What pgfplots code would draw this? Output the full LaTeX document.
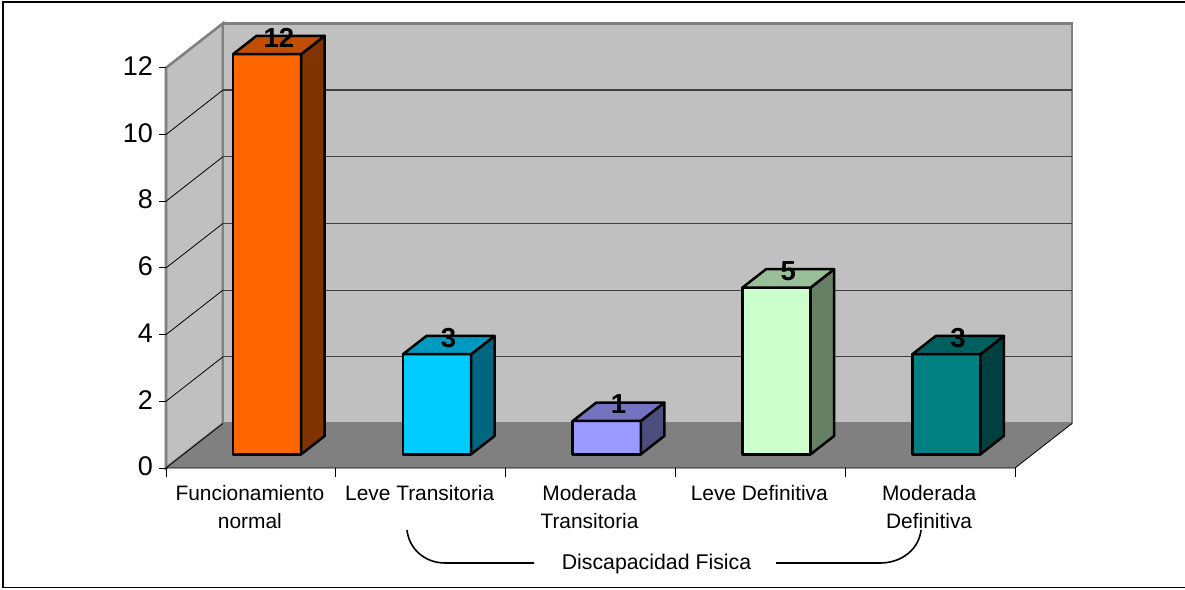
\documentclass[border=0pt]{standalone}
\usepackage{pgfplots}
\usepackage{fontspec}
\setmainfont{Liberation Sans}
\pgfplotsset{compat=1.18}

\definecolor{wallgray}{HTML}{C0C0C0}
\definecolor{floorgray}{HTML}{808080}
\definecolor{orangeF}{HTML}{FF6600}\definecolor{orangeS}{HTML}{7F3300}\definecolor{orangeT}{HTML}{C04D00}
\definecolor{blueF}{HTML}{00CCFF}\definecolor{blueS}{HTML}{006680}\definecolor{blueT}{HTML}{0099BF}
\definecolor{lilacF}{HTML}{9999FF}\definecolor{lilacS}{HTML}{4D4D80}\definecolor{lilacT}{HTML}{7373BF}
\definecolor{mintF}{HTML}{CCFFCC}\definecolor{mintS}{HTML}{668066}\definecolor{mintT}{HTML}{99BF99}
\definecolor{tealF}{HTML}{008080}\definecolor{tealS}{HTML}{004040}\definecolor{tealT}{HTML}{006060}

% One 3D column: position, value, colour prefix
\newcommand{\column}[3]{%
  \addplot3[draw=black,line width=2.5pt,line join=round,fill=#3F,mark=none] coordinates
    {(#1+0.292,0.308,0) (#1+0.693,0.308,0) (#1+0.693,0.308,#2) (#1+0.292,0.308,#2)} --cycle;
  \addplot3[draw=black,line width=2.5pt,line join=round,fill=#3S,mark=none] coordinates
    {(#1+0.693,0.308,0) (#1+0.693,0.72,0) (#1+0.693,0.72,#2) (#1+0.693,0.308,#2)} --cycle;
  \addplot3[draw=black,line width=2.5pt,line join=round,fill=#3T,mark=none] coordinates
    {(#1+0.292,0.308,#2) (#1+0.693,0.308,#2) (#1+0.693,0.72,#2) (#1+0.292,0.72,#2)} --cycle;
  \node[font=\fontsize{27.5}{29}\selectfont\bfseries,inner sep=0pt,yshift=7.5pt]
    at (axis cs:#1+0.492,0.514,#2) {#2};
}
% Horizontal guide across the left and back walls
\newcommand{\guide}[1]{%
  \addplot3[draw=black,line width=0.8pt,mark=none] coordinates {(0,0,#1) (0,1,#1)};
  \addplot3[draw=black!75,line width=1.1pt,mark=none] coordinates {(0,1,#1) (5,1,#1)};
}
\newcommand{\ztick}[1]{%
  \draw[black,line width=0.9pt] (axis cs:0,0,#1) -- ++(-7pt,0pt);
  \node[font=\fontsize{27}{29}\selectfont,anchor=east,inner sep=0pt,yshift=1.5pt]
    at ([xshift=-13pt]axis cs:0,0,#1) {#1};
}
\newcommand{\xtick}[1]{%
  \draw[black,line width=0.9pt] (axis cs:#1,0,0) -- ++(0pt,-9pt);
}
\newcommand{\catlabel}[2]{%
  \node[font=\fontsize{20.9}{28}\selectfont,align=center,anchor=north,inner sep=0pt,
        xshift=-1pt,yshift=-17.5pt] at (axis cs:#1,0,0) {#2};
}

\begin{document}
\begin{tikzpicture}
  \path[use as bounding box] (0pt,0pt) rectangle (1185pt,589pt);
  \fill[white] (0pt,0pt) rectangle (1185pt,589pt);
  \draw[black,line width=1.6pt] (1185pt,586.7pt) -- (2.7pt,586.7pt) -- (2.7pt,1.4pt) -- (1185pt,1.4pt);

  \begin{axis}[
      x={(169.8pt,0pt)}, y={(57pt,44.5pt)}, z={(0pt,33.35pt)},
      xmin=0, xmax=5, ymin=0, ymax=1, zmin=0, zmax=12,
      hide axis, clip=false,
      anchor=origin, at={(166pt,121pt)},
    ]
    % Walls and floor
    \addplot3[fill=wallgray,draw=floorgray,line width=2.6pt,mark=none] coordinates
      {(0,0,0) (0,1,0) (0,1,12) (0,0,12)} --cycle;
    \addplot3[fill=wallgray,draw=floorgray,line width=2.6pt,mark=none] coordinates
      {(0,1,0) (5,1,0) (5,1,12) (0,1,12)} --cycle;
    \addplot3[fill=floorgray,draw=none,mark=none] coordinates
      {(0,0,0) (5,0,0) (5,1,0) (0,1,0)} --cycle;
    \guide{2}\guide{4}\guide{6}\guide{8}\guide{10}
    % Floor edges
    \addplot3[draw=white,line width=1pt,mark=none] coordinates {(0,0,-0.04) (5,0,-0.04)};
    \addplot3[draw=white,line width=1pt,mark=none] coordinates {(5.008,0,-0.02) (5.008,1,-0.02)};
    \addplot3[draw=black,line width=0.8pt,mark=none] coordinates {(0,1,0) (0,0,0) (5,0,0) (5,1,0)};
    % Axis ticks and labels
    \ztick{0}\ztick{2}\ztick{4}\ztick{6}\ztick{8}\ztick{10}\ztick{12}
    \xtick{0}\xtick{1}\xtick{2}\xtick{3}\xtick{4}\xtick{5}
    \catlabel{0.5}{Funcionamiento\\normal}
    \catlabel{1.5}{Leve Transitoria}
    \catlabel{2.5}{Moderada\\Transitoria}
    \catlabel{3.5}{Leve Definitiva}
    \catlabel{4.5}{Moderada\\Definitiva}
    % Columns
    \column{0}{12}{orange}
    \column{1}{3}{blue}
    \column{2}{1}{lilac}
    \column{3}{5}{mint}
    \column{4}{3}{teal}
  \end{axis}

  % Bracket grouping the disability categories
  \draw[black,line width=1.6pt] (534pt,26pt) -- (445pt,26pt) .. controls (425pt,26pt) and (409pt,40pt) .. (407pt,59pt);
  \draw[black,line width=1.6pt] (776pt,26pt) -- (880pt,26pt) .. controls (902pt,26pt) and (919pt,40pt) .. (921pt,59pt);
  \node[font=\fontsize{21.3}{24}\selectfont,inner sep=0pt] at (656.5pt,25.5pt) {Discapacidad Fisica};
\end{tikzpicture}
\end{document}
